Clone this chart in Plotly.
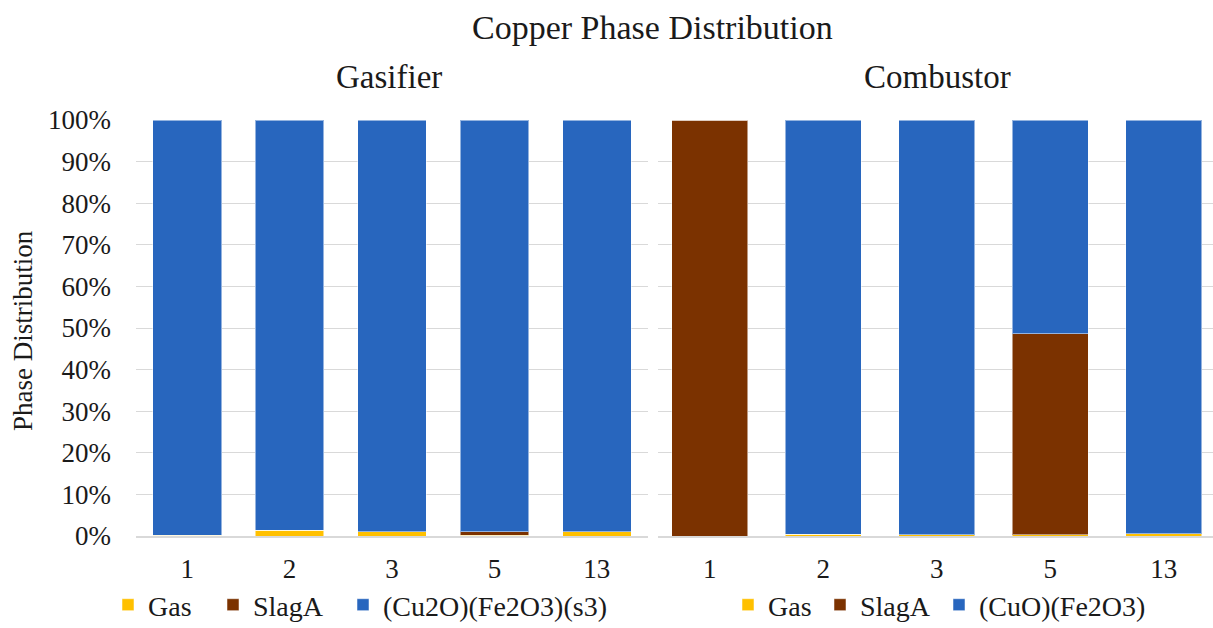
import plotly.graph_objects as go

categories = ["1", "2", "3", "5", "13"]

gas_gasifier = [0.2, 1.4, 1.0, 0.2, 1.0]
slag_gasifier = [0.0, 0.0, 0.0, 0.8, 0.0]
solid_gasifier = [99.8, 98.6, 99.0, 99.0, 99.0]

gas_combustor = [0.0, 0.4, 0.3, 0.3, 0.5]
slag_combustor = [100.0, 0.0, 0.0, 48.3, 0.0]
solid_combustor = [0.0, 99.6, 99.7, 51.4, 99.5]

y_tickvals = [0, 10, 20, 30, 40, 50, 60, 70, 80, 90, 100]
y_ticktext = ["0%", "10%", "20%", "30%", "40%", "50%", "60%", "70%", "80%", "90%", "100%"]

c_gas = "#FFC000"
c_slag = "#7B3200"
c_blue = "#2866BE"
FONT = "'Liberation Serif', 'Times New Roman', Times, serif"
TXT = "#1a1a1a"

W, H = 1213, 628
def px(x):
    return x / W
def py(y):
    return 1 - y / H

fig = go.Figure()
edge = dict(color="rgba(255,255,255,0.5)", width=1)

left_series = [("Gas", gas_gasifier, c_gas, "legend2", 130),
               ("SlagA", slag_gasifier, c_slag, "legend3", 235),
               ("(Cu2O)(Fe2O3)(s3)", solid_gasifier, c_blue, "legend4", 365)]
right_series = [("Gas", gas_combustor, c_gas, "legend5", 750),
                ("SlagA", slag_combustor, c_slag, "legend6", 842),
                ("(CuO)(Fe2O3)", solid_combustor, c_blue, "legend7", 961)]

for name, vals, col, lg, _ in left_series:
    fig.add_trace(go.Bar(x=categories, y=vals, name=name, marker=dict(color=col, line=edge),
                         xaxis="x", yaxis="y", width=0.67, legend=lg, showlegend=True))
for name, vals, col, lg, _ in right_series:
    fig.add_trace(go.Bar(x=categories, y=vals, name=name, marker=dict(color=col, line=edge),
                         xaxis="x2", yaxis="y2", width=0.67, legend=lg, showlegend=True))

ydom = [py(536), py(120)]
axfont = dict(family=FONT, size=27, color=TXT)
legends = {}
for name, vals, col, lg, cx in left_series + right_series:
    legends[lg] = dict(x=px(cx - 22), y=py(605), xanchor="left", yanchor="middle",
                       orientation="h", font=dict(family=FONT, size=28, color=TXT),
                       itemwidth=30, bgcolor="rgba(0,0,0,0)", borderwidth=0, visible=True)

fig.update_layout(
    width=W, height=H, barmode="stack", showlegend=True,
    margin=dict(l=0, r=0, t=0, b=0, autoexpand=False),
    plot_bgcolor="white", paper_bgcolor="white",
    font=dict(family=FONT, size=27, color=TXT),
    xaxis=dict(domain=[px(136), px(648)], type="category", showline=True, linecolor="#D9D9D9",
               linewidth=1.5, tickfont=axfont, ticks="", showgrid=False, anchor="y",
               automargin=False, ticklabelstandoff=8),
    yaxis=dict(domain=ydom, range=[0, 100], tickmode="array", tickvals=y_tickvals, ticktext=y_ticktext,
               showgrid=True, gridcolor="#D9D9D9", gridwidth=1, tickfont=axfont,
               ticklabelstandoff=24, zeroline=False, anchor="x", automargin=False),
    xaxis2=dict(domain=[px(658), px(1213)], type="category", range=[-0.456, 4.434], showline=True,
                linecolor="#D9D9D9", linewidth=1.5, tickfont=axfont, ticks="", showgrid=False,
                anchor="y2", automargin=False, ticklabelstandoff=8),
    yaxis2=dict(domain=ydom, range=[0, 100], tickmode="array", tickvals=y_tickvals, showticklabels=False,
                showgrid=True, gridcolor="#D9D9D9", gridwidth=1, zeroline=False, anchor="x2",
                automargin=False),
    annotations=[
        dict(text="Copper Phase Distribution", x=px(652), y=py(27), xref="paper", yref="paper",
             showarrow=False, font=dict(family=FONT, size=34, color=TXT), xanchor="center", yanchor="middle"),
        dict(text="Gasifier", x=px(389), y=py(77), xref="paper", yref="paper",
             showarrow=False, font=dict(family=FONT, size=33, color=TXT), xanchor="center", yanchor="middle"),
        dict(text="Combustor", x=px(937), y=py(77), xref="paper", yref="paper",
             showarrow=False, font=dict(family=FONT, size=33, color=TXT), xanchor="center", yanchor="middle"),
        dict(text="Phase Distribution", x=px(23), y=py(331), xref="paper", yref="paper", textangle=-90,
             showarrow=False, font=dict(family=FONT, size=27, color=TXT), xanchor="center", yanchor="middle"),
    ],
    **legends,
)

fig.write_html("out.html", config={"displayModeBar": False},
               post_script="document.body.style.margin='0';document.body.style.padding='0';")
